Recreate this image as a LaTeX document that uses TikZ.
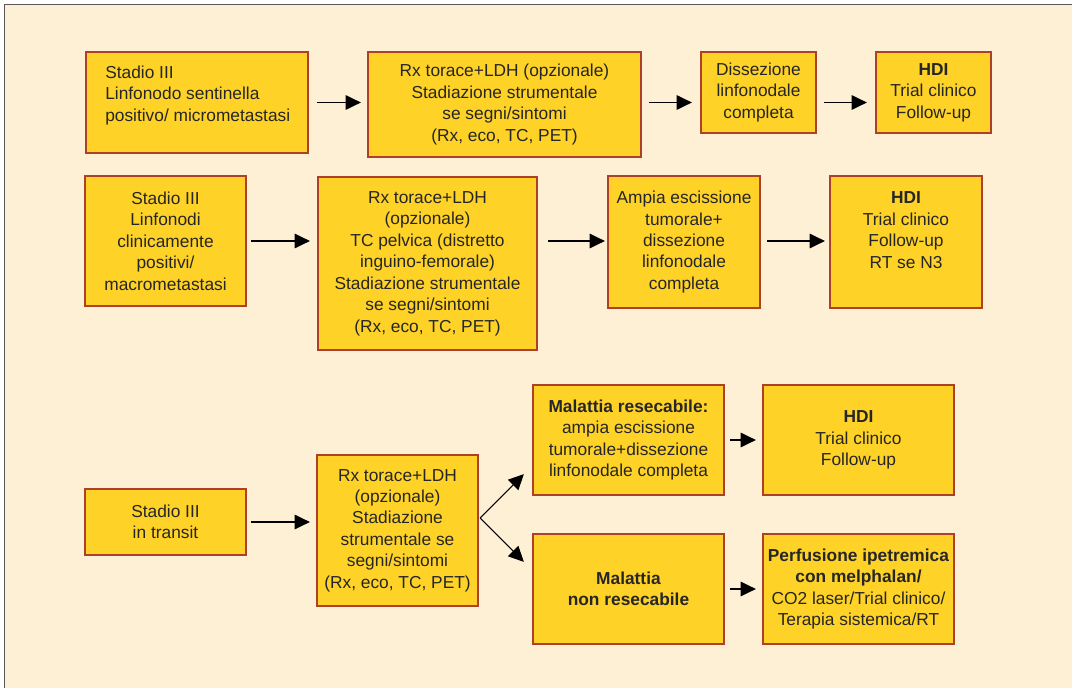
\documentclass[tikz,border=0pt]{standalone}
\usepackage{fontspec}
\setmainfont{Liberation Sans}
\usetikzlibrary{arrows.meta,calc}

\definecolor{pagecream}{HTML}{FEF0D5}
\definecolor{framegray}{HTML}{58595B}
\definecolor{boxfill}{HTML}{FED226}
\definecolor{boxline}{HTML}{AE3F28}
\definecolor{ink}{HTML}{262626}

\tikzset{
  stepbox/.style={draw=boxline, fill=boxfill, line width=1.7pt, inner sep=0pt,
    align=center, text=ink, font=\fontsize{13}{16.1}\selectfont},
  boxtext/.style={inner sep=0pt, text=ink, font=\fontsize{13}{16.1}\selectfont},
  arr/.style={draw=black, line width=0.8pt, -{Triangle[length=11.5pt,width=11pt]}},
}

\begin{document}
\begin{tikzpicture}[x=0.75pt, y=-0.75pt]
  \useasboundingbox (0,0) rectangle (1072,688);
  % page and frame
  \fill[white] (0,0) rectangle (1072,688);
  \fill[pagecream] (4.7,4.7) rectangle (1072,688);
  \draw[framegray, line width=1.1pt] (4.7,688) -- (4.7,4.7) -- (1072,4.7);

  % row 1: sentinel node positive
  \node[stepbox, minimum width=166.5pt, minimum height=75.75pt] (a1) at (197,102.5) {};
  \node[boxtext, anchor=west, align=left] (a1t) at (105,95.5)
    {Stadio III\\Linfonodo sentinella\\positivo/ micrometastasi};
  \node[stepbox, minimum width=204.75pt, minimum height=78.75pt] (a2) at (504.5,104.5)
    {Rx torace+LDH (opzionale)\\Stadiazione strumentale\\se segni/sintomi\\(Rx, eco, TC, PET)};
  \node[stepbox, minimum width=86.25pt, minimum height=60.75pt] (a3) at (758.5,92.5)
    {Dissezione\\linfonodale\\completa};
  \node[stepbox, minimum width=86.25pt, minimum height=60.75pt] (a4) at (933.5,92.5)
    {\textbf{HDI}\\Trial clinico\\Follow-up};

  % row 2: clinically positive nodes
  \node[stepbox, minimum width=120.75pt, minimum height=97.5pt] (b1) at (165.5,241)
    {Stadio III\\Linfonodi\\clinicamente\\positivi/\\macrometastasi};
  \node[stepbox, minimum width=164.25pt, minimum height=129.75pt] (b2) at (427.5,263.5)
    {Rx torace+LDH\\(opzionale)\\TC pelvica (distretto\\inguino-femorale)\\Stadiazione strumentale\\se segni/sintomi\\(Rx, eco, TC, PET)};
  \node[stepbox, minimum width=114pt, minimum height=99pt] (b3) at (684,242)
    {Ampia escissione\\tumorale+\\dissezione\\linfonodale\\completa};
  \node[stepbox, minimum width=114pt, minimum height=99pt] (b4) at (906,242) {};
  \node[boxtext, align=center] (b4t) at (906,230)
    {\textbf{HDI}\\Trial clinico\\Follow-up\\RT se N3};

  % row 3: in-transit disease
  \node[stepbox, minimum width=120.75pt, minimum height=49.5pt] (c1) at (165.5,522)
    {Stadio III\\in transit};
  \node[stepbox, minimum width=120.75pt, minimum height=113.25pt] (c2) at (397.5,530.5)
    {Rx torace+LDH\\(opzionale)\\Stadiazione\\strumentale se\\segni/sintomi\\(Rx, eco, TC, PET)};
  \node[stepbox, minimum width=143.25pt, minimum height=82.5pt] (c3) at (628.5,440)
    {\textbf{Malattia resecabile:}\\ampia escissione\\tumorale+dissezione\\linfonodale completa};
  \node[stepbox, minimum width=143.25pt, minimum height=82.5pt] (c4) at (628.5,589)
    {\textbf{Malattia}\\\textbf{non resecabile}};
  \node[stepbox, minimum width=143.25pt, minimum height=82.5pt] (c5) at (858.5,440)
    {\textbf{HDI}\\Trial clinico\\Follow-up};
  \node[stepbox, minimum width=143.25pt, minimum height=82.5pt] (c6) at (858.5,589)
    {\textbf{Perfusione ipetremica}\\\textbf{con melphalan/}\\CO2 laser/Trial clinico/\\Terapia sistemica/RT};

  % connectors
  \draw[arr] ([xshift=6pt]a1.east) -- ([xshift=-4.5pt]a2.west |- a1.east);
  \draw[arr] ([xshift=5.25pt]a2.east |- a1.east) -- ([xshift=-6pt]a3.west |- a1.east);
  \draw[arr] ([xshift=5.25pt]a3.east |- a1.east) -- ([xshift=-6pt]a4.west |- a1.east);

  \draw[arr] ([xshift=3pt]b1.east) -- ([xshift=-5.25pt]b2.west |- b1.east);
  \draw[arr] ([xshift=7.5pt]b2.east |- b1.east) -- ([xshift=-1.5pt]b3.west |- b1.east);
  \draw[arr] ([xshift=4.5pt]b3.east |- b1.east) -- ([xshift=-3pt]b4.west |- b1.east);

  \draw[arr] ([xshift=3pt]c1.east) -- ([xshift=-4.5pt]c2.west |- c1.east);
  \coordinate (split) at ($(c2.east)+(1,-12.5)$);
  \draw[arr] (split) -- ($(c3.south west)+(-8,-22)$);
  \draw[arr] (split) -- ($(c4.north west)+(-8,29)$);
  \draw[arr] ([xshift=3.75pt]c3.east) -- ([xshift=-4.5pt]c5.west);
  \draw[arr] ([xshift=3.75pt]c4.east) -- ([xshift=-4.5pt]c6.west);
\end{tikzpicture}
\end{document}
